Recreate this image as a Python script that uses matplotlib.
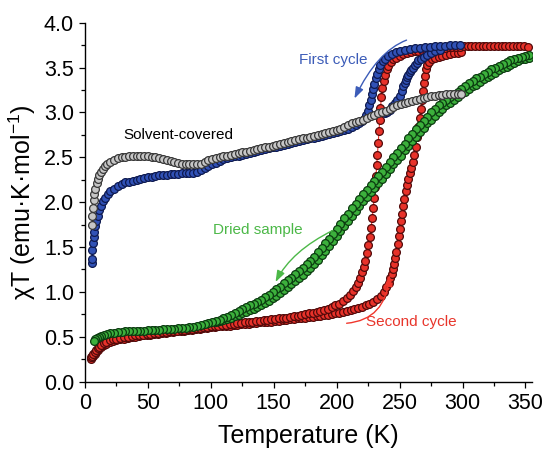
import matplotlib
matplotlib.use("Agg")
import matplotlib.pyplot as plt
from matplotlib.ticker import MultipleLocator

plt.rcParams['font.family'] = ['Liberation Sans', 'DejaVu Sans']
plt.rcParams['mathtext.default'] = 'regular'

# ---------------- data ----------------
gray_T = [5.3, 5.7, 6.2, 6.8, 7.5, 8.3, 9.2, 10.2, 11.3, 12.5,
          13.9, 15.5, 17.5, 20, 23, 26, 29, 32, 35, 38,
          41, 44, 47, 50, 53, 56, 59, 62, 65, 68,
          71, 74, 77, 80, 83, 86, 89, 92, 95, 98,
          101, 104, 107, 110, 113, 116, 119, 122, 125, 128,
          131, 134, 137, 140, 143, 146, 149, 152, 155, 158,
          161, 164, 167, 170, 173, 176, 179, 182, 185, 188,
          191, 194, 197, 200, 203, 206, 209, 212, 215, 218,
          221, 224, 227, 230, 233, 236, 239, 242, 245, 248,
          251, 254, 257, 260, 263, 266, 269, 272, 275, 278,
          281, 284, 287, 290, 293, 296, 299]
gray_chi = [1.75, 1.85, 1.94, 2.02, 2.09, 2.15, 2.21, 2.26, 2.30, 2.34,
            2.37, 2.40, 2.43, 2.45, 2.47, 2.49, 2.50, 2.50, 2.51, 2.51,
            2.51, 2.51, 2.51, 2.51, 2.50, 2.50, 2.49, 2.48, 2.47, 2.46,
            2.45, 2.44, 2.43, 2.42, 2.42, 2.42, 2.42, 2.43, 2.45, 2.47,
            2.48, 2.49, 2.50, 2.51, 2.52, 2.53, 2.54, 2.55, 2.56, 2.56,
            2.57, 2.58, 2.59, 2.60, 2.61, 2.62, 2.63, 2.64, 2.65, 2.66,
            2.67, 2.68, 2.69, 2.70, 2.71, 2.72, 2.73, 2.74, 2.75, 2.76,
            2.77, 2.78, 2.79, 2.80, 2.82, 2.84, 2.86, 2.88, 2.89, 2.91,
            2.92, 2.94, 2.96, 2.97, 2.99, 3.01, 3.02, 3.04, 3.06, 3.08,
            3.09, 3.11, 3.12, 3.13, 3.14, 3.15, 3.16, 3.17, 3.18, 3.18,
            3.19, 3.19, 3.20, 3.20, 3.20, 3.21, 3.21]

blue_cool_T = [5.3, 5.5, 5.8, 6.2, 6.8, 7.4, 8.2, 9.1, 10.1, 11.3,
               12.7, 14.3, 16, 18, 20, 23, 26, 29, 32, 35,
               38, 41, 44, 47, 50, 53, 56, 59, 62, 65,
               68, 71, 74, 77, 80, 83, 86, 89, 92, 95,
               98, 101, 104, 107, 110, 113, 116, 119, 122, 125,
               128, 131, 134, 137, 140, 143, 146, 149, 152, 155,
               158, 161, 164, 167, 170, 173, 176, 179, 182, 185,
               188, 191, 194, 197, 200, 203, 206, 209, 212, 215,
               218, 220, 222, 223.5, 225, 226, 227, 228, 229, 230,
               231, 232, 233.3, 234.8, 236.5, 238.5, 241, 244, 247, 250,
               254, 258, 262, 266, 270, 274, 278, 282, 286, 290,
               294, 298]
blue_cool_chi = [1.32, 1.37, 1.47, 1.55, 1.61, 1.67, 1.73, 1.79, 1.85, 1.91,
                 1.96, 2.01, 2.05, 2.09, 2.12, 2.15, 2.18, 2.20, 2.22, 2.23,
                 2.24, 2.25, 2.26, 2.27, 2.28, 2.28, 2.29, 2.30, 2.30, 2.30,
                 2.31, 2.31, 2.31, 2.32, 2.32, 2.32, 2.33, 2.34, 2.36, 2.38,
                 2.40, 2.42, 2.44, 2.46, 2.48, 2.49, 2.50, 2.51, 2.52, 2.53,
                 2.54, 2.55, 2.56, 2.57, 2.58, 2.59, 2.60, 2.61, 2.62, 2.63,
                 2.64, 2.65, 2.66, 2.67, 2.68, 2.69, 2.70, 2.71, 2.72, 2.73,
                 2.74, 2.75, 2.76, 2.77, 2.78, 2.79, 2.80, 2.82, 2.84, 2.86,
                 2.88, 2.90, 2.93, 2.97, 3.02, 3.08, 3.14, 3.20, 3.26, 3.32,
                 3.38, 3.43, 3.48, 3.53, 3.57, 3.60, 3.63, 3.65, 3.67, 3.69,
                 3.70, 3.71, 3.72, 3.72, 3.73, 3.73, 3.74, 3.74, 3.74, 3.75,
                 3.75, 3.75]

blue_heat_T = [238, 240, 242, 244, 246, 248, 250, 251.5, 253, 254,
               255, 256, 257, 258, 259, 260.5, 262, 263.5, 265, 267,
               269, 272, 275, 278, 282]
blue_heat_chi = [2.99, 3.01, 3.03, 3.07, 3.11, 3.14, 3.18, 3.24, 3.29, 3.33,
                 3.36, 3.39, 3.42, 3.45, 3.47, 3.50, 3.53, 3.55, 3.58, 3.60,
                 3.62, 3.64, 3.66, 3.68, 3.70]

red_cool_T = [5, 5.8, 6.7, 7.7, 8.8, 10, 11.5, 13, 15, 17,
              19.5, 22, 25, 28, 31, 34, 37, 40, 43, 46,
              49, 52, 55, 58, 61, 64, 67, 70, 73, 76,
              79, 82, 85, 88, 91, 94, 97, 100, 103, 106,
              109, 112, 115, 118, 121, 124, 127, 130, 133, 136,
              139, 142, 145, 148, 151, 154, 157, 160, 163, 166,
              169, 172, 175, 178, 181, 184, 187, 190, 193, 196,
              199, 202, 205, 208, 210.5, 213, 215, 217, 218.7, 220.2,
              221.6, 222.8, 224, 225.2, 226.3, 227.3, 228.2, 229, 229.8, 230.5,
              231.2, 231.8, 232.4, 233, 233.6, 234.2, 234.8, 235.5, 236.3, 237.2,
              238.3, 239.6, 241, 243, 245, 247.5, 250, 253, 256, 259,
              262, 265, 268, 271, 274, 277, 280, 283, 286, 289,
              292, 295, 298, 301, 304, 307, 310, 313, 316, 319,
              322, 325, 328, 331, 334, 337, 340, 343, 346, 349,
              352]
red_cool_chi = [0.27, 0.29, 0.31, 0.33, 0.35, 0.37, 0.39, 0.41, 0.43, 0.44,
                0.46, 0.47, 0.48, 0.49, 0.50, 0.50, 0.51, 0.515, 0.52, 0.525,
                0.53, 0.535, 0.54, 0.545, 0.55, 0.555, 0.56, 0.565, 0.57, 0.575,
                0.58, 0.585, 0.59, 0.595, 0.60, 0.605, 0.61, 0.615, 0.62, 0.625,
                0.63, 0.635, 0.64, 0.645, 0.65, 0.655, 0.66, 0.665, 0.67, 0.675,
                0.68, 0.685, 0.69, 0.695, 0.70, 0.705, 0.71, 0.715, 0.72, 0.73,
                0.735, 0.745, 0.75, 0.76, 0.77, 0.78, 0.79, 0.80, 0.815, 0.83,
                0.85, 0.87, 0.90, 0.93, 0.97, 1.01, 1.05, 1.10, 1.16, 1.22,
                1.28, 1.35, 1.43, 1.52, 1.61, 1.71, 1.82, 1.93, 2.05, 2.17,
                2.29, 2.41, 2.53, 2.66, 2.79, 2.92, 3.05, 3.17, 3.27, 3.35,
                3.42, 3.48, 3.52, 3.56, 3.59, 3.61, 3.63, 3.65, 3.66, 3.67,
                3.68, 3.69, 3.70, 3.70, 3.71, 3.71, 3.72, 3.72, 3.72, 3.73,
                3.73, 3.73, 3.73, 3.74, 3.74, 3.74, 3.74, 3.74, 3.74, 3.74,
                3.74, 3.74, 3.74, 3.74, 3.74, 3.74, 3.74, 3.74, 3.74, 3.74,
                3.73]

red_heat_T = [5, 5.8, 6.7, 7.7, 8.8, 10, 11.5, 13, 15, 17,
              19.5, 22, 25, 28, 31, 34, 37, 40, 43, 46,
              49, 52, 55, 58, 61, 64, 67, 70, 73, 76,
              79, 82, 85, 88, 91, 94, 97, 100, 103, 106,
              109, 112, 115, 118, 121, 124, 127, 130, 133, 136,
              139, 142, 145, 148, 151, 154, 157, 160, 163, 166,
              169, 172, 175, 178, 181, 184, 187, 190, 193, 196,
              199, 202, 205, 208, 211, 214, 217, 220, 223, 226,
              229, 232, 235, 237.5, 239.5, 241.2, 242.6, 243.8, 244.8, 245.8,
              246.7, 247.5, 248.4, 249.3, 250.2, 251, 251.9, 252.8, 253.7, 254.7,
              255.7, 256.8, 257.9, 259, 260.3, 261.6, 262.8, 263.9, 264.9, 265.9,
              266.8, 267.6, 268.4, 269.2, 270, 270.9, 272, 273.5, 275.5, 278,
              281, 284, 287, 290, 293, 296, 299]
red_heat_chi = [0.25, 0.27, 0.29, 0.31, 0.33, 0.35, 0.37, 0.39, 0.41, 0.42,
                0.44, 0.45, 0.46, 0.47, 0.48, 0.49, 0.50, 0.50, 0.51, 0.515,
                0.52, 0.525, 0.53, 0.535, 0.54, 0.545, 0.55, 0.555, 0.56, 0.565,
                0.57, 0.575, 0.58, 0.585, 0.59, 0.595, 0.60, 0.605, 0.61, 0.615,
                0.62, 0.62, 0.625, 0.63, 0.635, 0.64, 0.64, 0.645, 0.65, 0.655,
                0.66, 0.66, 0.665, 0.67, 0.675, 0.68, 0.685, 0.69, 0.695, 0.70,
                0.705, 0.71, 0.715, 0.72, 0.725, 0.73, 0.735, 0.74, 0.745, 0.75,
                0.76, 0.77, 0.78, 0.79, 0.80, 0.81, 0.82, 0.83, 0.85, 0.87,
                0.89, 0.92, 0.96, 1.00, 1.05, 1.10, 1.15, 1.20, 1.25, 1.31,
                1.38, 1.45, 1.53, 1.62, 1.70, 1.79, 1.87, 1.96, 2.04, 2.12,
                2.19, 2.26, 2.32, 2.38, 2.45, 2.53, 2.62, 2.73, 2.84, 2.94,
                3.04, 3.14, 3.24, 3.33, 3.41, 3.48, 3.53, 3.56, 3.59, 3.61,
                3.62, 3.63, 3.64, 3.65, 3.66, 3.66, 3.67]

green_cool_T = [7, 8, 9.5, 11, 13, 15, 17.5, 20, 23, 26,
                29, 32, 35, 38, 41, 44, 47, 50, 53, 56,
                59, 62, 65, 68, 71, 74, 77, 80, 83, 86,
                89, 92, 95, 98, 101, 104, 107, 110, 113, 116,
                119, 122, 125, 128, 131, 134, 137, 140, 143, 146,
                149, 152, 155, 158, 161, 164, 167, 170, 173, 176,
                179, 182, 185, 188, 191, 194, 197, 200, 203, 206,
                209, 212, 215, 218, 221, 224, 227, 230, 233, 236,
                239, 242, 245, 248, 251, 254, 257, 260, 263, 266,
                269, 272, 275, 278, 281, 284, 287, 290, 293, 296,
                299, 302, 305, 308, 311, 314, 317, 320, 323, 326,
                329, 332, 335, 338, 341, 344, 347, 350, 353]
green_cool_chi = [0.45, 0.47, 0.49, 0.50, 0.51, 0.52, 0.53, 0.54, 0.545, 0.55,
                  0.555, 0.56, 0.56, 0.565, 0.565, 0.57, 0.57, 0.575, 0.575, 0.58,
                  0.58, 0.585, 0.585, 0.59, 0.59, 0.595, 0.60, 0.60, 0.605, 0.61,
                  0.62, 0.63, 0.64, 0.65, 0.66, 0.675, 0.69, 0.71, 0.725, 0.745,
                  0.765, 0.785, 0.805, 0.83, 0.85, 0.87, 0.89, 0.91, 0.94, 0.97,
                  1.00, 1.03, 1.06, 1.10, 1.13, 1.16, 1.20, 1.23, 1.27, 1.31,
                  1.35, 1.39, 1.44, 1.49, 1.54, 1.59, 1.65, 1.70, 1.76, 1.82,
                  1.87, 1.93, 1.98, 2.04, 2.09, 2.14, 2.19, 2.24, 2.29, 2.34,
                  2.39, 2.45, 2.50, 2.55, 2.60, 2.65, 2.71, 2.76, 2.81, 2.86,
                  2.91, 2.95, 3.00, 3.04, 3.08, 3.11, 3.14, 3.17, 3.20, 3.23,
                  3.26, 3.30, 3.33, 3.35, 3.38, 3.40, 3.43, 3.45, 3.48, 3.50,
                  3.52, 3.54, 3.56, 3.58, 3.59, 3.61, 3.62, 3.63, 3.64]

green_heat_T = [104, 107, 110, 113, 116, 119, 122, 125, 128, 131,
                134, 137, 140, 143, 146, 149, 152, 155, 158, 161,
                164, 167, 170, 173, 176, 179, 182, 185, 188, 191,
                194, 197, 200, 203, 206, 209, 212, 215, 218, 221,
                224, 227, 230, 233, 236, 239, 242, 245, 248, 251,
                254, 257, 260, 263, 266, 269, 272, 275, 278, 281,
                284, 287, 290, 293, 296, 299, 302, 305, 308, 311,
                314, 317, 320, 323, 326, 329, 332, 335, 338, 341,
                344, 347, 350, 353]
green_heat_chi = [0.665, 0.675, 0.69, 0.70, 0.715, 0.73, 0.745, 0.76, 0.78, 0.795,
                  0.81, 0.83, 0.85, 0.88, 0.90, 0.93, 0.955, 0.99, 1.02, 1.05,
                  1.09, 1.12, 1.15, 1.19, 1.23, 1.27, 1.31, 1.36, 1.41, 1.46,
                  1.51, 1.57, 1.62, 1.68, 1.74, 1.79, 1.85, 1.90, 1.96, 2.01,
                  2.06, 2.11, 2.16, 2.21, 2.26, 2.31, 2.37, 2.42, 2.47, 2.52,
                  2.58, 2.63, 2.68, 2.73, 2.78, 2.83, 2.88, 2.92, 2.96, 3.00,
                  3.04, 3.08, 3.11, 3.14, 3.17, 3.20, 3.23, 3.26, 3.29, 3.31,
                  3.34, 3.37, 3.39, 3.42, 3.44, 3.47, 3.49, 3.51, 3.53, 3.55,
                  3.57, 3.59, 3.60, 3.61]

x_ticks = [0, 50, 100, 150, 200, 250, 300, 350]
y_ticks = [0.0, 0.5, 1.0, 1.5, 2.0, 2.5, 3.0, 3.5, 4.0]

# ---------------- figure ----------------
fig = plt.figure(figsize=(5.45, 4.54), dpi=100)
ax = fig.add_axes([0.156, 0.1593, 0.8197, 0.7907])

MS = 5.6
def draw(T, chi, fill, edge, z):
    ax.plot(T, chi, '-', color=fill, lw=0.8, marker='o', ms=MS,
            mfc=fill, mec=edge, mew=0.9, zorder=z)

RED_F, RED_E = '#e8322a', '#520a0a'
BLUE_F, BLUE_E = '#3152b6', '#0e1a50'
GREEN_F, GREEN_E = '#3cb03c', '#0b3b10'
GRAY_F, GRAY_E = '#c6c6c6', '#383838'

draw(red_heat_T, red_heat_chi, RED_F, RED_E, 2)
draw(red_cool_T, red_cool_chi, RED_F, RED_E, 2.1)
draw(blue_heat_T, blue_heat_chi, BLUE_F, BLUE_E, 3)
draw(blue_cool_T, blue_cool_chi, BLUE_F, BLUE_E, 3.1)
draw(green_heat_T, green_heat_chi, GREEN_F, GREEN_E, 4)
draw(green_cool_T[::-1], green_cool_chi[::-1], GREEN_F, GREEN_E, 4.1)
draw(gray_T, gray_chi, GRAY_F, GRAY_E, 5)

ax.set_xlim(0, 355)
ax.set_ylim(0, 4.0)
ax.set_xticks(x_ticks)
ax.set_yticks(y_ticks)
ax.set_yticklabels([f'{v:.1f}' for v in y_ticks])
ax.xaxis.set_minor_locator(MultipleLocator(25))
ax.yaxis.set_minor_locator(MultipleLocator(0.25))
for s in ['top', 'right']:
    ax.spines[s].set_visible(False)
for s in ['left', 'bottom']:
    ax.spines[s].set_linewidth(1.0)
ax.tick_params(which='major', direction='out', length=4.5, width=0.9,
               labelsize=15.5, pad=3.5)
ax.tick_params(which='minor', direction='out', length=3, width=0.9)
ax.set_xlabel('Temperature (K)', fontsize=18, labelpad=7)
ax.set_ylabel('χT (emu·K·mol$^{-1}$)', fontsize=18, labelpad=4)

# annotations
ax.text(197, 3.58, 'First cycle', color='#3c5cb8', fontsize=11,
        ha='center', va='center')
ax.text(74, 2.75, 'Solvent-covered', color='black', fontsize=11,
        ha='center', va='center')
ax.text(137, 1.69, 'Dried sample', color='#4cb848', fontsize=11,
        ha='center', va='center')
ax.text(259.5, 0.668, 'Second cycle', color='#e8352b', fontsize=11,
        ha='center', va='center')

def arrow(start, end, color, angA, angB):
    ax.annotate('', xy=end, xytext=start,
                arrowprops=dict(arrowstyle='-|>,head_length=0.45,head_width=0.16',
                                color=color, lw=1.0, mutation_scale=15,
                                shrinkA=0, shrinkB=0,
                                connectionstyle=f'angle3,angleA={angA},angleB={angB}'),
                zorder=6)

arrow((255.5, 3.806), (214.1, 3.155), '#3c5cb8', 20.75, 64.2)
arrow((197.0, 1.686), (151.4, 1.11), '#4cb848', 26.3, 62.8)
arrow((207.9, 0.651), (242.0, 1.19), '#f0362c', 5, 85)

fig.savefig('out.png', dpi=100)
